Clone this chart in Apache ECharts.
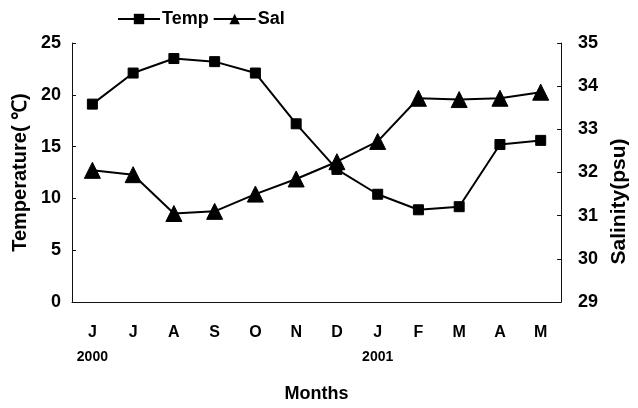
<!DOCTYPE html>
<html>
<head>
<meta charset="utf-8">
<script src="https://cdn.jsdelivr.net/npm/echarts@6/dist/echarts.min.js"></script>
<style>
html,body{margin:0;padding:0;background:#fff;}
#chart{width:638px;height:408px;}
</style>
</head>
<body>
<div id="chart"></div>
<script>
var months = ['J','J','A','S','O','N','D','J','F','M','A','M'];
var years = ['2000','','','','','','','2001','','','',''];
var temp = [19.1, 22.1, 23.5, 23.2, 22.1, 17.2, 12.8, 10.4, 8.9, 9.2, 15.2, 15.6];
var sal = [32.05, 31.95, 31.05, 31.1, 31.5, 31.85, 32.25, 32.72, 33.72, 33.69, 33.72, 33.86];
var tempTicks = [0, 25, 5];
var salTicks = [29, 35, 1];

var FONT = '"Liberation Sans", Arial, sans-serif';
var chart = echarts.init(document.getElementById('chart'), null, {renderer: 'canvas'});
var axisLineStyle = {color: '#111', width: 1};
chart.setOption({
  backgroundColor: '#fff',
  animation: false,
  textStyle: {fontFamily: FONT, fontWeight: 'bold', color: '#000'},
  legend: {
    left: 112, top: 5,
    itemWidth: 42, itemHeight: 13, itemGap: 4,
    textStyle: {fontFamily: FONT, fontWeight: 'bold', fontSize: 18, color: '#000', padding: [0, 0, 0, -3]},
    data: ['Temp', 'Sal']
  },
  grid: {left: 72, right: 65, top: 43, bottom: 101, containLabel: false},
  xAxis: {
    type: 'category',
    data: months,
    boundaryGap: true,
    name: 'Months',
    nameLocation: 'middle',
    nameGap: 83,
    nameTextStyle: {fontFamily: FONT, fontWeight: 'bold', fontSize: 18, color: '#000'},
    axisLine: {lineStyle: axisLineStyle},
    axisTick: {inside: true, length: 4, lineStyle: axisLineStyle, alignWithLabel: false},
    axisLabel: {
      margin: 20,
      interval: 0,
      formatter: function (v, i) { return '{m|' + v + '}\n{y|' + (years[i] || ' ') + '}'; },
      rich: {
        m: {fontFamily: FONT, fontWeight: 'bold', fontSize: 16, color: '#000', lineHeight: 22},
        y: {fontFamily: FONT, fontWeight: 'bold', fontSize: 14, color: '#000', lineHeight: 22, padding: [4, 0, 0, 0]}
      }
    },
    splitLine: {show: false}
  },
  yAxis: [{
    type: 'value',
    min: tempTicks[0], max: tempTicks[1], interval: tempTicks[2],
    name: 'Temperature( \u2103)',
    nameLocation: 'middle',
    nameRotate: 90,
    nameGap: 37,
    nameTextStyle: {fontFamily: FONT, fontWeight: 'bold', fontSize: 20, color: '#000'},
    axisLine: {show: true, lineStyle: axisLineStyle},
    axisTick: {show: true, inside: true, length: 4, lineStyle: axisLineStyle},
    axisLabel: {margin: 11, fontFamily: FONT, fontWeight: 'bold', fontSize: 18, color: '#000'},
    splitLine: {show: false}
  }, {
    type: 'value',
    position: 'right',
    min: salTicks[0], max: salTicks[1], interval: salTicks[2],
    name: 'Salinity(psu)',
    nameLocation: 'middle',
    nameRotate: 90,
    nameGap: 34,
    nameTextStyle: {fontFamily: FONT, fontWeight: 'bold', fontSize: 21, color: '#000', padding: [0, 58, 0, 0]},
    axisLine: {show: true, lineStyle: axisLineStyle},
    axisTick: {show: true, inside: true, length: 4, lineStyle: axisLineStyle},
    axisLabel: {margin: 17, fontFamily: FONT, fontWeight: 'bold', fontSize: 18, color: '#000'},
    splitLine: {show: false}
  }],
  series: [{
    name: 'Temp',
    type: 'line',
    yAxisIndex: 0,
    data: temp,
    symbol: 'rect',
    symbolSize: 10,
    lineStyle: {color: '#000', width: 2},
    itemStyle: {color: '#000', borderColor: '#000'}
  }, {
    name: 'Sal',
    type: 'line',
    yAxisIndex: 1,
    data: sal,
    symbol: 'triangle',
    symbolSize: 16,
    lineStyle: {color: '#000', width: 2},
    itemStyle: {color: '#000', borderColor: '#000'}
  }]
});
</script>
</body>
</html>
